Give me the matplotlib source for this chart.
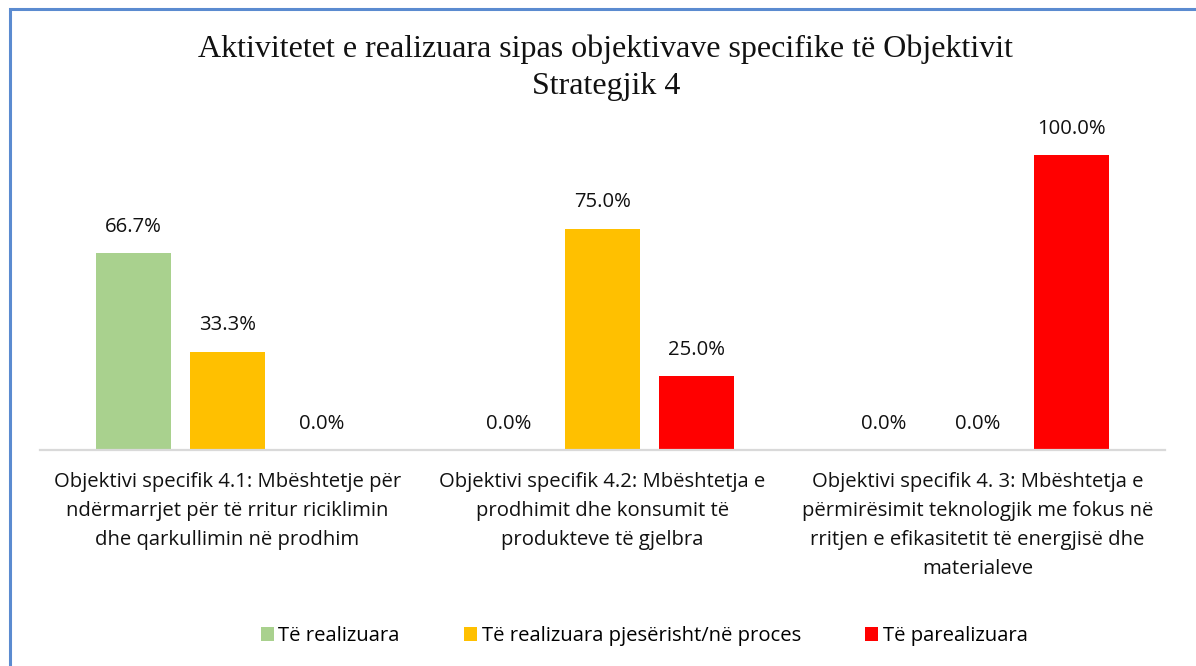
import matplotlib
matplotlib.use("Agg")
import matplotlib.pyplot as plt
from matplotlib.patches import Rectangle
import numpy as np

categories = [
    "Objektivi specifik 4.1: Mbështetje për\nndërmarrjet për të rritur riciklimin\ndhe qarkullimin në prodhim",
    "Objektivi specifik 4.2: Mbështetja e\nprodhimit dhe konsumit të\nprodukteve të gjelbra",
    "Objektivi specifik 4. 3: Mbështetja e\npërmirësimit teknologjik me fokus në\nrritjen e efikasitetit të energjisë dhe\nmaterialeve",
]
series_names = ["Të realizuara", "Të realizuara pjesërisht/në proces", "Të parealizuara"]
realizuara = [66.7, 0.0, 0.0]
pjeserisht = [33.3, 75.0, 0.0]
parealizuara = [0.0, 25.0, 100.0]
colors = ["#A9D18E", "#FFC000", "#FF0000"]
title = "Aktivitetet e realizuara sipas objektivave specifike të Objektivit\nStrategjik 4"

W, H = 1196, 666
fig = plt.figure(figsize=(W / 100, H / 100), dpi=100)
fig.patch.set_facecolor("white")

# frame
fig.patches.append(Rectangle((10 / W, -0.1), 1.2, (1 - 9 / H) + 0.1, transform=fig.transFigure,
                             fill=False, edgecolor="#5B8BD0", linewidth=2.2))

ax = fig.add_axes([40 / W, 1 - 450 / H, 1125 / W, 295 / H])
font = "Open Sans"
fs = 14.6
x = np.arange(len(categories))
offs = [-0.25, 0.0, 0.25]
for vals, off, col, name in zip([realizuara, pjeserisht, parealizuara], offs, colors, series_names):
    bars = ax.bar(x + off, vals, width=0.2, color=col, label=name, zorder=2)
    for b, v in zip(bars, vals):
        ax.annotate(f"{v:.1f}%", (b.get_x() + b.get_width() / 2, v), xytext=(0, 19),
                    textcoords="offset points", ha="center", va="center",
                    fontsize=fs, family=font, color="#111111", annotation_clip=False)

ax.set_xlim(-0.5, 2.5)
ax.set_ylim(0, 100)
ax.set_yticks([])
ax.set_xticks(x)
ax.set_xticklabels(categories, family=font, fontsize=fs, linespacing=1.6, color="#111111")
ax.tick_params(axis="x", length=0, pad=16)
for s in ["top", "right", "left"]:
    ax.spines[s].set_visible(False)
ax.spines["bottom"].set_color("#D9D9D9")
ax.spines["bottom"].set_linewidth(1.6)

fig.text(606 / W, 1 - 68 / H, title, ha="center", va="center", family="Liberation Serif",
         fontsize=23, linespacing=1.38, color="#111111")

fig.legend(loc="center", bbox_to_anchor=(644 / W, 1 - 636 / H), ncol=3, frameon=False,
           prop={"family": font, "size": fs}, handlelength=0.68, handleheight=0.68,
           handletextpad=0.2, columnspacing=3.15)

fig.savefig("out.png", dpi=100)
